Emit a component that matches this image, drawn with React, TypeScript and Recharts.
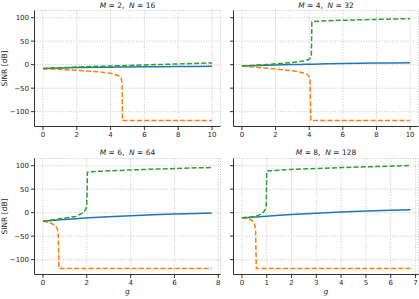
import React from 'react';
import { LineChart, Line, XAxis, YAxis, CartesianGrid } from 'recharts';

const Y_TICKS = [-100, -50, 0, 50, 100];
const Y_DOMAIN: [number, number] = [-131.6, 115.3];

// Panel 1: M = 2, N = 16
const G_1 = [0, 0.5, 1, 1.5, 2, 2.5, 3, 3.5, 4, 4.25, 4.5, 4.6, 4.65, 4.68, 4.7, 5, 6, 7, 8, 9, 10];
const BLUE_1 = [-8, -7.4, -6.9, -6.5, -6.2, -5.9, -5.7, -5.5, -5.3, -5.2, -5.1, -5.05, -5.0, -5.0, -5.0, -4.9, -4.6, -4.3, -4.0, -3.8, -3.5];
const GREEN_1 = [-8, -7.2, -6.5, -5.8, -5.1, -4.5, -3.9, -3.3, -2.8, -2.5, -2.3, -2.2, -2.15, -2.1, -2.1, -1.8, -0.7, 0.5, 1.6, 2.7, 3.8];
const ORANGE_1 = [-8.5, -9.3, -10.1, -11, -12, -13.2, -14.5, -16, -18.5, -20.5, -24, -27.5, -32, -45, -119, -119, -119, -119, -119, -119, -119];

// Panel 2: M = 4, N = 32
const G_2 = [0, 0.5, 1, 1.5, 2, 2.5, 3, 3.5, 3.8, 3.95, 4.05, 4.1, 4.13, 4.16, 4.3, 5, 6, 7, 8, 9, 10];
const BLUE_2 = [-3, -2.3, -1.7, -1.2, -0.7, -0.3, 0.1, 0.5, 0.7, 0.8, 0.85, 0.9, 0.92, 0.95, 1.05, 1.7, 2.3, 2.8, 3.3, 3.8, 4.2];
const GREEN_2 = [-3, -1.8, -0.6, 0.6, 1.8, 3.2, 4.8, 7, 9, 11, 13, 16, 20, 91, 92, 93.5, 94.5, 95.5, 96.3, 97.2, 98];
const ORANGE_2 = [-3, -4.5, -6, -7.6, -9.2, -11, -12.8, -16, -19.5, -23, -30, -119, -119, -119, -119, -119, -119, -119, -119, -119, -119];

// Panel 3: M = 6, N = 64
const G_3 = [0, 0.2, 0.4, 0.55, 0.65, 0.7, 0.73, 0.76, 1, 1.5, 1.8, 1.9, 1.97, 2.0, 2.03, 2.1, 3, 4, 5, 6, 7, 7.7];
const BLUE_3 = [-18.5, -17.5, -16.6, -16, -15.6, -15.4, -15.3, -15.2, -14.4, -12.8, -11.9, -11.6, -11.4, -11.3, -11.2, -11, -8.6, -6.5, -4.6, -3, -1.5, -0.6];
const GREEN_3 = [-18.5, -17, -15.5, -14.5, -13.8, -13.4, -13.2, -13, -11.5, -8, -1, 3, 9, 15, 86, 87, 89, 91, 92.5, 94, 95.5, 96];
const ORANGE_3 = [-18.5, -20, -23, -27, -33, -50, -119, -119, -119, -119, -119, -119, -119, -119, -119, -119, -119, -119, -119, -119, -119, -119];

// Panel 4: M = 8, N = 128
const G_4 = [0, 0.2, 0.4, 0.5, 0.55, 0.58, 0.61, 0.8, 0.9, 0.95, 0.98, 1.0, 1.02, 1.1, 1.5, 2, 3, 4, 5, 6, 6.8];
const BLUE_4 = [-11.4, -10.6, -9.8, -9.4, -9.2, -9.1, -9, -8.3, -7.9, -7.7, -7.6, -7.5, -7.4, -7.1, -5.5, -3.8, -1, 1.3, 3.3, 5, 6.3];
const GREEN_4 = [-11, -10, -8.8, -8, -7.5, -7.1, -6.7, -2, 3, 8, 15, 88, 88.5, 89, 90.5, 92, 94, 96, 97.5, 99, 100.5];
const ORANGE_4 = [-11, -12.5, -16, -22, -35, -119, -119, -119, -119, -119, -119, -119, -119, -119, -119, -119, -119, -119, -119, -119, -119];

const X_TICKS_1 = [0, 2, 4, 6, 8, 10];
const X_TICKS_2 = [0, 2, 4, 6, 8, 10];
const X_TICKS_3 = [0, 2, 4, 6, 8];
const X_TICKS_4 = [0, 1, 2, 3, 4, 5, 6, 7];

const build = (g: number[], b: number[], o: number[], gr: number[]) =>
  g.map((x, i) => ({ g: x, blue: b[i], orange: o[i], green: gr[i] }));

const FONT = 'DejaVu Sans, sans-serif';
const TXT = '#262626';
const AX = '#333333';

type PanelProps = {
  data: any[];
  left: number;
  top: number;
  width: number;
  height: number;
  marginTop: number;
  marginRight: number;
  yAxisWidth: number;
  xAxisHeight: number;
  xDomain: [number, number];
  xTicks: number[];
  showYLabels: boolean;
};

function Panel(p: PanelProps) {
  return (
    <div style={{ position: 'absolute', left: p.left, top: p.top }}>
      <LineChart
        width={p.width}
        height={p.height}
        data={p.data}
        margin={{ top: p.marginTop, right: p.marginRight, bottom: 0, left: 0 }}
      >
        <CartesianGrid stroke="#b8b8b8" strokeWidth={0.8} strokeDasharray="1 1.6" />
        <XAxis
          dataKey="g"
          type="number"
          domain={p.xDomain}
          ticks={p.xTicks}
          allowDataOverflow
          height={p.xAxisHeight}
          stroke={AX}
          tickSize={3.5}
          tickMargin={2.5}
          tick={{ fontSize: 7, fill: TXT, fontFamily: FONT }}
          interval={0}
        />
        <XAxis
          xAxisId="top"
          orientation="top"
          type="number"
          domain={p.xDomain}
          allowDataOverflow
          height={0}
          stroke={AX}
          tick={false}
          tickLine={false}
        />
        <YAxis
          type="number"
          domain={Y_DOMAIN}
          ticks={Y_TICKS}
          allowDataOverflow
          width={p.yAxisWidth}
          stroke={AX}
          tickSize={3.5}
          tickMargin={2}
          interval={0}
          tick={{ fontSize: 7, fill: TXT, fontFamily: FONT }}
          tickFormatter={(v: number) => (p.showYLabels ? (v < 0 ? '\u2212' + Math.abs(v) : String(v)) : '')}
          label={
            p.showYLabels
              ? {
                  value: 'SINR [dB]',
                  angle: -90,
                  position: 'insideLeft',
                  offset: 4,
                  style: { textAnchor: 'middle', fontSize: 7.5, fill: TXT, fontFamily: FONT },
                }
              : undefined
          }
        />
        <YAxis
          yAxisId="right"
          orientation="right"
          type="number"
          domain={Y_DOMAIN}
          allowDataOverflow
          width={0}
          stroke={AX}
          tick={false}
          tickLine={false}
        />
        <Line type="linear" dataKey="blue" stroke="#1f77b4" strokeWidth={1.5} dot={false} isAnimationActive={false} />
        <Line type="linear" dataKey="orange" stroke="#ff7f0e" strokeWidth={1.5} strokeDasharray="5 2.2" dot={false} isAnimationActive={false} />
        <Line type="linear" dataKey="green" stroke="#2ca02c" strokeWidth={1.5} strokeDasharray="5 2.2" dot={false} isAnimationActive={false} />
      </LineChart>
    </div>
  );
}

function Title({ x, y, m, n }: { x: number; y: number; m: string; n: string }) {
  return (
    <text x={x} y={y} textAnchor="middle" fontSize={7.5} fill={TXT} fontFamily={FONT}>
      <tspan fontStyle="italic">M</tspan>
      <tspan>{'\u00a0=\u00a0' + m + ',\u00a0\u00a0'}</tspan>
      <tspan fontStyle="italic">N</tspan>
      <tspan>{'\u00a0=\u00a0' + n}</tspan>
    </text>
  );
}

export default function App() {
  const d1 = build(G_1, BLUE_1, ORANGE_1, GREEN_1);
  const d2 = build(G_2, BLUE_2, ORANGE_2, GREEN_2);
  const d3 = build(G_3, BLUE_3, ORANGE_3, GREEN_3);
  const d4 = build(G_4, BLUE_4, ORANGE_4, GREEN_4);
  return (
    <div style={{ position: 'absolute', left: 0, top: 0, width: 419, height: 299, background: '#fff', overflow: 'hidden' }}>
      <Panel data={d1} left={0} top={0} width={227} height={150} marginTop={10.5} marginRight={6.5}
        yAxisWidth={34.5} xAxisHeight={23.5} xDomain={[-0.5, 10.5]} xTicks={X_TICKS_1} showYLabels />
      <Panel data={d2} left={227} top={0} width={192} height={150} marginTop={10.5} marginRight={0.5}
        yAxisWidth={6.5} xAxisHeight={23.5} xDomain={[-0.5, 10.5]} xTicks={X_TICKS_2} showYLabels={false} />
      <Panel data={d3} left={0} top={150} width={227} height={149} marginTop={8.5} marginRight={6.5}
        yAxisWidth={34.5} xAxisHeight={24.5} xDomain={[-0.385, 8.1]} xTicks={X_TICKS_3} showYLabels />
      <Panel data={d4} left={227} top={150} width={192} height={149} marginTop={8.5} marginRight={0.5}
        yAxisWidth={6.5} xAxisHeight={24.5} xDomain={[-0.34, 7.12]} xTicks={X_TICKS_4} showYLabels={false} />
      <svg width={419} height={299} style={{ position: 'absolute', left: 0, top: 0, pointerEvents: 'none' }}>
        <Title x={127.5} y={8} m="2" n="16" />
        <Title x={326} y={8} m="4" n="32" />
        <Title x={127.5} y={155} m="6" n="64" />
        <Title x={326} y={155} m="8" n="128" />
        <text x={127.5} y={294} textAnchor="middle" fontSize={7.5} fontStyle="italic" fill={TXT} fontFamily={FONT}>g</text>
        <text x={326} y={294} textAnchor="middle" fontSize={7.5} fontStyle="italic" fill={TXT} fontFamily={FONT}>g</text>
      </svg>
    </div>
  );
}
